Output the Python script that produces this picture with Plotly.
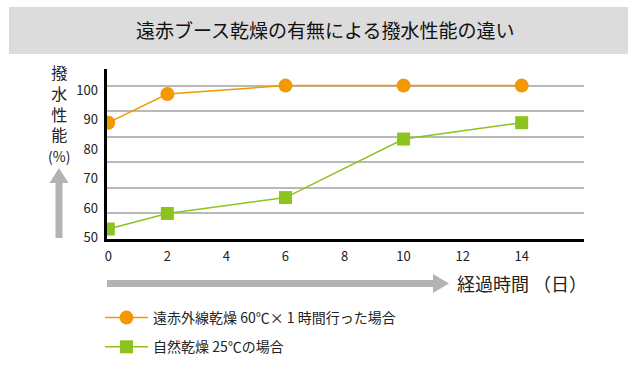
import plotly.graph_objects as go

# ---- data ----
days = [0, 2, 6, 10, 14]
far_ir = [85.5, 96.7, 100, 100, 100]      # 遠赤外線乾燥 60℃×1時間
natural = [43.9, 50.0, 56.2, 79.1, 85.5]  # 自然乾燥 25℃
x_ticks = [0, 2, 4, 6, 8, 10, 12, 14]
y_ticks = [50, 60, 70, 80, 90, 100]

title = "遠赤ブース乾燥の有無による撥水性能の違い"
name1 = "遠赤外線乾燥 60℃× 1 時間行った場合"
name2 = "自然乾燥 25℃の場合"
x_title = "経過時間 （日）"
y_title = "撥<br>水<br>性<br>能<br><span style='font-size:14px'>(%)</span>"

W, H = 640, 367
# plot area in window pixels
PL, PR, PT, PB = 107, 584, 69, 239
L, R, T, B = PL, W - PR, PT, H - PB
PW, PH = PR - PL, PB - PT
FONT = "Noto Sans CJK JP"
ORANGE = "#f39800"
GREEN = "#8dc21f"
ARROW = "#b3b3b3"


def px(x):
    return (x - PL) / PW


def py(y):
    return (PB - y) / PH


def path(points):
    return "M " + " L ".join(f"{px(a):.5f},{py(b):.5f}" for a, b in points) + " Z"


fig = go.Figure()
fig.add_trace(go.Scatter(
    x=days, y=far_ir, name=name1, mode="lines+markers",
    line=dict(color=ORANGE, width=1.5),
    marker=dict(symbol="circle", size=14, color=ORANGE),
    legendgroup="a",
))
fig.add_trace(go.Scatter(
    x=days, y=natural, name=name2, mode="lines+markers",
    line=dict(color=GREEN, width=1.5),
    marker=dict(symbol="square", size=13, color=GREEN),
    legendgroup="b",
))
# empty helper trace so the tick-label axis (y2) is drawn
fig.add_trace(go.Scatter(x=[None], y=[None], yaxis="y2", showlegend=False,
                         hoverinfo="skip", mode="markers"))

shapes = [
    dict(type="rect", xref="paper", yref="paper",
         x0=px(9), x1=px(628), y0=py(54), y1=py(7),
         fillcolor="#dcdcdc", line=dict(width=0), layer="below"),
    dict(type="path", xref="paper", yref="paper",
         path=path([(55.5, 238), (55.5, 183), (49.5, 183), (59, 168),
                    (68.5, 183), (62.5, 183), (62.5, 238)]),
         fillcolor=ARROW, line=dict(width=0)),
    dict(type="path", xref="paper", yref="paper",
         path=path([(107, 280), (433, 280), (433, 274), (449, 283.5),
                    (433, 293), (433, 287), (107, 287)]),
         fillcolor=ARROW, line=dict(width=0)),
]

annotations = [
    dict(text=title, x=px(325), y=py(30), xref="paper", yref="paper",
         showarrow=False, font=dict(size=19, color="#111", family=FONT),
         xanchor="center", yanchor="middle"),
    dict(text=x_title, x=px(455), y=py(283), xref="paper", yref="paper",
         showarrow=False, font=dict(size=18, color="#222", family=FONT),
         xanchor="left", yanchor="middle"),
    dict(text=y_title, x=px(58.5), y=py(112.5), xref="paper", yref="paper",
         showarrow=False, font=dict(size=16, color="#222", family=FONT),
         xanchor="center", yanchor="middle", align="center"),
]

fig.update_layout(
    width=W, height=H,
    margin=dict(l=L, r=R, t=T, b=B, pad=0, autoexpand=False),
    paper_bgcolor="white", plot_bgcolor="white",
    font=dict(family=FONT, color="#222", size=13),
    xaxis=dict(range=[-0.044, 16.11], tickvals=x_ticks, showgrid=False, zeroline=False,
               showline=True, linecolor="black", linewidth=3, ticks="",
               ticklabelstandoff=3, tickfont=dict(size=13, color="#222")),
    yaxis=dict(range=[40, 106.5], tickvals=y_ticks, showticklabels=False,
               showgrid=True, gridcolor="#b9b9b9", gridwidth=1.5, zeroline=False,
               showline=True, linecolor="black", linewidth=3, ticks=""),
    yaxis2=dict(range=[49.56, 107.1], tickvals=y_ticks, overlaying="y", anchor="x",
                side="left", showgrid=False, zeroline=False, showline=False, ticks="",
                ticklabelstandoff=8, tickfont=dict(size=13, color="#222")),
    showlegend=True,
    legend=dict(x=100 / W, y=1 - 302 / H, xref="container", yref="container",
                xanchor="left", yanchor="top",
                font=dict(size=14, color="#222", family=FONT),
                itemwidth=43, tracegroupgap=8, bgcolor="rgba(0,0,0,0)",
                borderwidth=0),
    shapes=shapes,
    annotations=annotations,
)

fig.write_html(
    "out.html",
    config={"displayModeBar": False},
    post_script="document.documentElement.style.margin='0';"
                "document.body.style.margin='0';"
                "document.body.style.overflow='hidden';"
                "document.documentElement.style.overflow='hidden';",
)
